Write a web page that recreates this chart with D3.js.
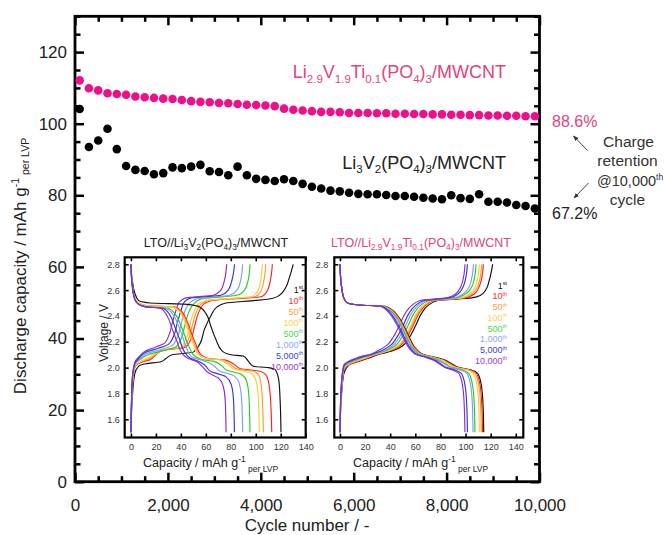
<!DOCTYPE html>
<html><head><meta charset="utf-8">
<script src="https://cdn.jsdelivr.net/npm/d3@7"></script>
<style>body{margin:0;background:#fff}svg{display:block}text{font-family:"Liberation Sans",Arial,sans-serif}</style>
</head><body>
<svg id="c" width="664" height="535"></svg>
<script>
// ---------------- DATA ----------------
const cycles = [100,300,500,700,900,1100,1300,1500,1700,1900,2100,2300,2500,2700,2900,3100,3300,3500,3700,3900,
  4100,4300,4500,4700,4900,5100,5300,5500,5700,5900,6100,6300,6500,6700,6900,7100,7300,7500,7700,7900,
  8100,8300,8500,8700,8900,9100,9300,9500,9700,9900];
const lvtpCapacity = [112.1,109.9,109.3,108.5,108.3,108.1,107.6,107.4,107.2,107.0,
  106.9,106.6,106.3,106.1,106.0,105.8,105.7,105.5,105.3,105.2,
  105.1,104.9,104.2,103.9,103.7,103.5,103.3,103.3,103.2,103.0,
  103.0,103.0,102.9,102.9,102.8,102.8,102.7,102.7,102.6,102.6,
  102.5,102.5,102.4,102.4,102.3,102.3,102.2,102.2,102.1,102.1];
const lvpCapacity = [104.1,93.5,95.3,98.6,92.9,88.2,87.1,86.8,85.9,86.2,
  87.8,87.6,88.0,88.5,86.7,86.5,85.6,88.0,85.6,84.6,
  84.3,84.0,84.5,84.0,83.2,82.4,81.9,81.3,81.1,80.7,
  80.4,80.3,80.3,80.1,79.8,79.8,79.6,79.3,79.1,78.9,
  80.0,79.2,79.0,80.3,78.2,78.2,78.0,77.3,77.0,76.3];
const xTickValues = [0,2000,4000,6000,8000,10000];
const yTickValues = [0,20,40,60,80,100,120];
const insetXTicks = [0,20,40,60,80,100,120,140];
const insetYTicks = [1.6,1.8,2.0,2.2,2.4,2.6,2.8];
const cycleLabels = ["1","10","50","100","500","1,000","5,000","10,000"];
const cycleSup = ["st","th","th","th","th","th","th","th"];
const cycleColors = ["#111111","#ff2020","#ff9a30","#ffcc33","#22d022","#7d9cff","#3434d8","#8a2ecc"];
const legendColors = ["#111111","#ff3030","#ffa040","#ffd24a","#44dd44","#88a8ff","#4040dd","#9a40d0"];

// inset 1: LTO//Li3V2(PO4)3/MWCNT  [capacity, voltage]
const lvpCharge = [
 [[0,1.5],[1,1.75],[3,1.95],[6,2.01],[12,2.03],[24,2.045],[28,2.07],[33,2.1],[50,2.12],[55,2.18],[59,2.3],[64,2.4],[69,2.47],[76,2.5],[100,2.52],[113,2.535],[119,2.56],[124,2.62],[127,2.7],[130,2.8]],
 [[0,1.5],[1,1.82],[3,2.0],[8,2.04],[15,2.06],[20,2.1],[25,2.13],[44,2.16],[48,2.22],[51,2.32],[54,2.42],[58,2.49],[65,2.52],[105,2.55],[109.5,2.6],[111.8,2.68],[113.3,2.8]],
 [[0,1.5],[1,1.83],[3,2.0],[8,2.045],[15,2.07],[20,2.105],[26,2.135],[42,2.16],[46,2.22],[49,2.32],[52,2.42],[56,2.49],[62,2.52],[100,2.55],[104.5,2.6],[106.6,2.68],[108,2.8]],
 [[0,1.5],[1,1.85],[3,2.01],[8,2.05],[15,2.08],[20,2.11],[27,2.14],[40,2.16],[44,2.22],[47,2.32],[50,2.42],[54,2.49],[60,2.52],[97,2.55],[102,2.6],[104,2.68],[105.3,2.8]],
 [[0,1.5],[1,1.87],[3,2.02],[7,2.06],[14,2.1],[25,2.13],[36,2.16],[40,2.22],[43,2.32],[46,2.42],[50,2.49],[56,2.53],[85,2.56],[91,2.6],[94,2.68],[95.4,2.8]],
 [[0,1.5],[1,1.88],[3,2.02],[7,2.07],[13,2.11],[24,2.14],[33,2.17],[37,2.23],[40,2.33],[43,2.43],[47,2.5],[52,2.53],[79,2.56],[85,2.6],[88,2.68],[89.5,2.8]],
 [[0,1.5],[1,1.9],[3,2.03],[7,2.08],[12,2.12],[22,2.15],[30,2.18],[34,2.24],[37,2.34],[40,2.44],[43,2.51],[48,2.54],[72,2.56],[78,2.6],[81,2.68],[83,2.8]],
 [[0,1.5],[1,1.9],[3,2.04],[7,2.09],[12,2.13],[20,2.16],[27,2.19],[30,2.24],[33,2.34],[36,2.44],[39,2.51],[44,2.54],[66,2.56],[72,2.6],[75,2.68],[76.7,2.8]]
];
const lvpDischarge = [
 [[0,2.8],[1,2.68],[3,2.58],[6,2.52],[15,2.5],[45,2.49],[55,2.47],[60,2.42],[64,2.32],[68,2.22],[73,2.13],[80,2.1],[90,2.09],[94,2.05],[98,2.01],[110,2.0],[116,1.98],[118.5,1.9],[119.5,1.75],[120.2,1.5]],
 [[0,2.8],[1,2.65],[3,2.54],[6,2.5],[12,2.48],[35,2.47],[40,2.44],[44,2.38],[48,2.28],[52,2.18],[56,2.1],[62,2.07],[75,2.06],[82,2.03],[88,1.99],[104,1.97],[109,1.93],[111.5,1.8],[112.8,1.5]],
 [[0,2.8],[1,2.65],[3,2.54],[6,2.5],[12,2.48],[34,2.47],[39,2.44],[43,2.38],[47,2.28],[51,2.18],[55,2.1],[61,2.07],[73,2.06],[79,2.03],[85,1.99],[99,1.97],[103,1.93],[105,1.8],[106.1,1.5]],
 [[0,2.8],[1,2.65],[3,2.54],[6,2.5],[12,2.48],[33,2.47],[38,2.44],[42,2.38],[46,2.28],[50,2.18],[54,2.1],[60,2.07],[71,2.06],[77,2.03],[82,1.99],[95,1.96],[99.5,1.92],[101.8,1.8],[102.9,1.5]],
 [[0,2.8],[1,2.64],[3,2.53],[6,2.49],[12,2.47],[30,2.46],[35,2.42],[39,2.35],[43,2.25],[47,2.15],[51,2.09],[58,2.06],[66,2.05],[72,2.02],[77,1.98],[88,1.95],[92.5,1.9],[94.5,1.78],[95.4,1.5]],
 [[0,2.8],[1,2.64],[3,2.53],[6,2.49],[12,2.47],[28,2.46],[33,2.42],[37,2.35],[41,2.25],[45,2.14],[49,2.08],[56,2.06],[62,2.04],[67,2.01],[72,1.97],[82,1.94],[86.7,1.88],[88.7,1.75],[89.5,1.5]],
 [[0,2.8],[1,2.64],[3,2.53],[6,2.49],[12,2.47],[26,2.46],[31,2.41],[35,2.32],[39,2.22],[43,2.12],[48,2.07],[54,2.05],[59,2.02],[64,1.97],[76,1.93],[80.3,1.87],[82.2,1.75],[82.9,1.5]],
 [[0,2.8],[1,2.64],[3,2.53],[6,2.49],[12,2.47],[24,2.46],[29,2.4],[33,2.3],[37,2.2],[41,2.11],[46,2.07],[52,2.05],[57,2.01],[62,1.96],[70,1.92],[73.8,1.86],[75.5,1.75],[76.2,1.5]]
];
// inset 2: LTO//Li2.9V1.9Ti0.1(PO4)3/MWCNT
const lvtpCharge = [
 [[0,1.5],[1,1.75],[3,1.95],[7,2.02],[12,2.04],[22,2.07],[30,2.1],[42,2.13],[50,2.17],[55,2.23],[60,2.32],[65,2.42],[70,2.48],[78,2.52],[105,2.54],[112,2.56],[116,2.6],[119,2.68],[121.6,2.8]],
 [[0,1.5],[1,1.78],[3,1.97],[7,2.02],[12,2.04],[21,2.07],[29,2.1],[40,2.13],[48,2.17],[53,2.23],[58,2.32],[63,2.42],[68,2.48],[75,2.52],[100,2.54],[107,2.57],[111,2.63],[113,2.7],[114.2,2.8]],
 [[0,1.5],[1,1.79],[3,1.98],[7,2.025],[12,2.045],[20,2.07],[28,2.1],[39,2.13],[47,2.17],[52,2.23],[57,2.32],[62,2.42],[67,2.48],[74,2.52],[98,2.54],[105,2.57],[109.7,2.63],[111.7,2.7],[112.9,2.8]],
 [[0,1.5],[1,1.8],[3,1.99],[7,2.03],[12,2.05],[20,2.075],[27,2.1],[38,2.13],[46,2.17],[51,2.23],[56,2.32],[61,2.42],[66,2.48],[73,2.52],[96,2.54],[103,2.57],[107.8,2.63],[109.8,2.7],[111,2.8]],
 [[0,1.5],[1,1.82],[3,2.0],[7,2.035],[12,2.055],[19,2.08],[26,2.1],[36,2.13],[44,2.17],[49,2.23],[54,2.32],[59,2.42],[64,2.48],[71,2.52],[93,2.54],[100,2.57],[105.2,2.63],[107.2,2.7],[108.4,2.8]],
 [[0,1.5],[1,1.83],[3,2.0],[7,2.04],[12,2.06],[18,2.08],[25,2.1],[35,2.13],[42,2.17],[47,2.23],[52,2.32],[57,2.42],[62,2.48],[69,2.52],[91,2.54],[98,2.57],[103.1,2.63],[105.1,2.7],[106.3,2.8]],
 [[0,1.5],[1,1.85],[3,2.01],[7,2.045],[12,2.065],[18,2.085],[24,2.1],[33,2.13],[40,2.17],[45,2.23],[50,2.32],[55,2.42],[60,2.48],[67,2.52],[87,2.54],[94,2.57],[98.3,2.63],[100.3,2.7],[101.5,2.8]],
 [[0,1.5],[1,1.86],[3,2.02],[7,2.05],[12,2.07],[18,2.09],[23,2.1],[30,2.13],[37,2.17],[42,2.23],[47,2.32],[52,2.42],[57,2.48],[64,2.52],[85,2.54],[92,2.57],[96.4,2.63],[98.4,2.7],[99.6,2.8]]
];
const lvtpDischarge = [
 [[0,2.8],[1,2.65],[3,2.54],[6,2.5],[15,2.485],[36,2.475],[41,2.45],[46,2.4],[51,2.32],[56,2.22],[61,2.14],[67,2.1],[76,2.08],[83,2.06],[89,2.03],[95,2.0],[105,1.98],[110,1.95],[112.8,1.85],[114,1.7],[114.5,1.5]],
 [[0,2.8],[1,2.65],[3,2.54],[6,2.5],[15,2.485],[35.5,2.475],[40.5,2.45],[45.5,2.4],[50.5,2.32],[55.5,2.22],[60.5,2.14],[66.5,2.1],[75,2.08],[82,2.06],[88,2.03],[94,2.0],[104,1.98],[109,1.95],[111.8,1.85],[113,1.7],[113.5,1.5]],
 [[0,2.8],[1,2.65],[3,2.54],[6,2.5],[15,2.485],[35,2.475],[40,2.45],[45,2.4],[50,2.32],[55,2.22],[60,2.14],[66,2.1],[74,2.08],[81,2.06],[87,2.03],[93,2.0],[103,1.98],[108,1.95],[110.8,1.85],[112,1.7],[112.5,1.5]],
 [[0,2.8],[1,2.65],[3,2.54],[6,2.5],[15,2.485],[34.5,2.475],[39.5,2.45],[44.5,2.4],[49.5,2.32],[54.5,2.22],[59.5,2.14],[65.5,2.1],[73,2.08],[80,2.06],[86,2.03],[92,2.0],[101.5,1.98],[106.5,1.95],[109.3,1.85],[110.5,1.7],[111,1.5]],
 [[0,2.8],[1,2.65],[3,2.54],[6,2.5],[15,2.485],[34,2.475],[39,2.45],[44,2.4],[49,2.32],[54,2.22],[59,2.14],[64.5,2.1],[72,2.08],[78,2.06],[84,2.03],[89.5,2.0],[98,1.98],[103,1.95],[105.8,1.85],[107,1.7],[107.5,1.5]],
 [[0,2.8],[1,2.65],[3,2.54],[6,2.5],[15,2.485],[33.5,2.475],[38.5,2.45],[43.5,2.4],[48.5,2.32],[53.5,2.22],[58.5,2.14],[64,2.1],[71,2.08],[77,2.06],[83,2.03],[88.5,2.0],[96.5,1.98],[101.5,1.95],[104.3,1.85],[105.5,1.7],[106,1.5]],
 [[0,2.8],[1,2.65],[3,2.54],[6,2.5],[15,2.485],[33,2.475],[37.5,2.45],[42,2.4],[47,2.32],[52,2.22],[57,2.14],[62,2.1],[69,2.08],[75,2.06],[80,2.03],[85,2.0],[92,1.98],[97,1.95],[99.8,1.85],[101,1.7],[101.5,1.5]],
 [[0,2.8],[1,2.65],[3,2.54],[6,2.5],[15,2.485],[32,2.475],[36.5,2.45],[41,2.4],[46,2.32],[51,2.22],[56,2.14],[61,2.1],[68,2.08],[74,2.06],[79,2.03],[84,2.0],[90,1.98],[95,1.95],[97.8,1.85],[99,1.7],[99.5,1.5]]
];

// ---------------- DRAW ----------------
const PINK_DOT = "#ee0f8a", PINK_TXT = "#e2437f", TXT = "#222";
const svg = d3.select("#c");

function rich(sel, parts, fs, subShift, supShift, small) {
  let shift = 0;
  parts.forEach(([t, m]) => {
    const target = m === -1 ? subShift : m === 1 ? -supShift : 0;
    const ts = sel.append("tspan").text(t).attr("dy", target - shift);
    if (m) ts.attr("font-size", small);
    shift = target;
  });
}

const X = d3.scaleLinear().domain([0, 10000]).range([75, 539.5]);
const Y = d3.scaleLinear().domain([0, 130]).range([481.7, 16.3]);
const xMinor = d3.range(0, 10001, 500).filter(v => v % 2000 !== 0);
const yMinor = d3.range(0, 131, 5).filter(v => v % 20 !== 0);
const yMajorAll = d3.range(0, 131, 20);

function styleAxis(g, w) {
  g.select(".domain").remove();
  g.selectAll(".tick line").attr("stroke", "#000").attr("stroke-width", w);
}
// bottom
svg.append("g").attr("transform", `translate(0,${Y(0)})`)
  .call(d3.axisBottom(X).tickValues(xTickValues).tickSize(-9).tickSizeOuter(0).tickPadding(17).tickFormat(d3.format(",")))
  .call(g => { styleAxis(g, 2.5); g.selectAll("text").attr("font-size", 17).attr("fill", TXT).attr("font-family", '"Liberation Sans",Arial,sans-serif'); });
svg.append("g").attr("transform", `translate(0,${Y(0)})`)
  .call(d3.axisBottom(X).tickValues(xMinor).tickSize(-5.5).tickSizeOuter(0).tickFormat(""))
  .call(g => styleAxis(g, 2.5));
// top
svg.append("g").attr("transform", `translate(0,${Y(130)})`)
  .call(d3.axisTop(X).tickValues(xTickValues).tickSize(-9).tickSizeOuter(0).tickFormat(""))
  .call(g => styleAxis(g, 2.5));
svg.append("g").attr("transform", `translate(0,${Y(130)})`)
  .call(d3.axisTop(X).tickValues(xMinor).tickSize(-5.5).tickSizeOuter(0).tickFormat(""))
  .call(g => styleAxis(g, 2.5));
// left
svg.append("g").attr("transform", `translate(${X(0)},0)`)
  .call(d3.axisLeft(Y).tickValues(yTickValues).tickSize(-9).tickSizeOuter(0).tickPadding(8))
  .call(g => { styleAxis(g, 2.5); g.selectAll("text").attr("font-size", 17).attr("fill", TXT).attr("font-family", '"Liberation Sans",Arial,sans-serif'); });
svg.append("g").attr("transform", `translate(${X(0)},0)`)
  .call(d3.axisLeft(Y).tickValues(yMinor).tickSize(-5.5).tickSizeOuter(0).tickFormat(""))
  .call(g => styleAxis(g, 2.5));
// right
svg.append("g").attr("transform", `translate(${X(10000)},0)`)
  .call(d3.axisRight(Y).tickValues(yMajorAll).tickSize(-9).tickSizeOuter(0).tickFormat(""))
  .call(g => styleAxis(g, 2.5));
svg.append("g").attr("transform", `translate(${X(10000)},0)`)
  .call(d3.axisRight(Y).tickValues(yMinor).tickSize(-5.5).tickSizeOuter(0).tickFormat(""))
  .call(g => styleAxis(g, 2.5));

// frame
svg.append("rect").attr("x", X(0)).attr("y", Y(130)).attr("width", X(10000) - X(0)).attr("height", Y(0) - Y(130))
  .attr("fill", "none").attr("stroke", "#000").attr("stroke-width", 2.8);

// dots
svg.append("g").selectAll("circle").data(cycles).join("circle")
  .attr("cx", d => X(d)).attr("cy", (d, i) => Y(lvtpCapacity[i])).attr("r", 4.3).attr("fill", PINK_DOT);
svg.append("g").selectAll("circle").data(cycles).join("circle")
  .attr("cx", d => X(d)).attr("cy", (d, i) => Y(lvpCapacity[i])).attr("r", 4.3).attr("fill", "#000");

// axis titles
svg.append("text").attr("x", 307).attr("y", 531).attr("text-anchor", "middle").attr("font-size", 17).attr("fill", TXT).text("Cycle number / -");
const yt = svg.append("text").attr("transform", "translate(26,266) rotate(-90)").attr("text-anchor", "middle").attr("font-size", 17).attr("fill", TXT);
rich(yt, [["Discharge capacity / mAh g", 0], ["-1", 1], [" per LVP", -1]], 17, 3, 7, 10.5);

// series labels
const pl = svg.append("text").attr("x", 506).attr("y", 78).attr("text-anchor", "end").attr("font-size", 18).attr("fill", PINK_TXT);
rich(pl, [["Li",0],["2.9",-1],["V",0],["1.9",-1],["Ti",0],["0.1",-1],["(PO",0],["4",-1],[")",0],["3",-1],["/MWCNT",0]], 18, 4.5, 7, 11.5);
const bl = svg.append("text").attr("x", 506).attr("y", 168.5).attr("text-anchor", "end").attr("font-size", 18).attr("fill", TXT);
rich(bl, [["Li",0],["3",-1],["V",0],["2",-1],["(PO",0],["4",-1],[")",0],["3",-1],["/MWCNT",0]], 18, 4.5, 7, 11.5);

// retention annotations
svg.append("text").attr("x", 552).attr("y", 127.3).attr("font-size", 16).attr("fill", PINK_TXT).text("88.6%");
svg.append("text").attr("x", 552).attr("y", 218.5).attr("font-size", 16).attr("fill", TXT).text("67.2%");
const ann = svg.append("g").attr("font-size", 15.5).attr("fill", "#333").attr("text-anchor", "middle");
ann.append("text").attr("x", 628.5).attr("y", 147.3).text("Charge");
ann.append("text").attr("x", 627.5).attr("y", 166).text("retention");
const at = ann.append("text").attr("x", 597).attr("y", 185.8).attr("text-anchor", "start").attr("font-size", 14.5);
rich(at, [["@10,000", 0], ["th", 1]], 14.5, 0, 5.5, 8.5);
ann.append("text").attr("x", 627.5).attr("y", 205).text("cycle");

const defs = svg.append("defs");
defs.append("marker").attr("id", "ah").attr("viewBox", "0 0 10 10").attr("refX", 9).attr("refY", 5)
  .attr("markerWidth", 6).attr("markerHeight", 6).attr("orient", "auto")
  .append("path").attr("d", "M0,1 L10,5 L0,9 Z").attr("fill", "#333");
svg.append("line").attr("x1", 587.5).attr("y1", 150.5).attr("x2", 573.5).attr("y2", 136).attr("stroke", "#333").attr("stroke-width", 0.9).attr("marker-end", "url(#ah)");
svg.append("line").attr("x1", 588.5).attr("y1", 183).attr("x2", 574).attr("y2", 198).attr("stroke", "#333").attr("stroke-width", 0.9).attr("marker-end", "url(#ah)");

// ---------------- INSETS ----------------
const vDom = [1.459, 2.854];
function inset(cfg) {
  const g = svg.append("g");
  const xs = d3.scaleLinear().domain(cfg.xDom).range([cfg.left, cfg.right]);
  const ys = d3.scaleLinear().domain(vDom).range([437.5, 257.3]);
  g.append("rect").attr("x", cfg.left).attr("y", ys(vDom[1])).attr("width", cfg.right - cfg.left)
    .attr("height", ys(vDom[0]) - ys(vDom[1])).attr("fill", "#fff");
  const line = d3.line().x(d => xs(d[0])).y(d => ys(d[1])).curve(d3.curveMonotoneY);
  const cg = g.append("g").attr("fill", "none").attr("stroke-width", 1.15);
  cfg.charge.forEach((c, i) => cg.append("path").attr("d", line(c)).attr("stroke", cycleColors[i]));
  cfg.discharge.forEach((c, i) => cg.append("path").attr("d", line(c)).attr("stroke", cycleColors[i]));
  const st = (a) => a.call(gg => { gg.select(".domain").remove(); gg.selectAll(".tick line").attr("stroke", "#000").attr("stroke-width", 1.6);
    gg.selectAll("text").attr("font-size", 9).attr("fill", "#333").attr("font-family", '"Liberation Sans",Arial,sans-serif'); });
  g.append("g").attr("transform", `translate(0,${ys(vDom[0])})`).call(d3.axisBottom(xs).tickValues(insetXTicks).tickSize(-4).tickSizeOuter(0).tickPadding(6)).call(st);
  g.append("g").attr("transform", `translate(0,${ys(vDom[1])})`).call(d3.axisTop(xs).tickValues(insetXTicks).tickSize(-4).tickSizeOuter(0).tickFormat("")).call(st);
  g.append("g").attr("transform", `translate(${cfg.left},0)`).call(d3.axisLeft(ys).tickValues(insetYTicks).tickSize(-4).tickSizeOuter(0).tickPadding(cfg.ypad).tickFormat(d3.format(".1f"))).call(st);
  g.append("g").attr("transform", `translate(${cfg.right},0)`).call(d3.axisRight(ys).tickValues(insetYTicks).tickSize(-4).tickSizeOuter(0).tickFormat("")).call(st);
  g.append("rect").attr("x", cfg.left).attr("y", ys(vDom[1])).attr("width", cfg.right - cfg.left)
    .attr("height", ys(vDom[0]) - ys(vDom[1])).attr("fill", "none").attr("stroke", "#000").attr("stroke-width", 2.2);
  // title
  const t = g.append("text").attr("x", cfg.titleX).attr("y", 247).attr("text-anchor", "middle").attr("font-size", 12.5).attr("fill", cfg.titleColor);
  rich(t, cfg.title, 12.5, 3, 5, 8.3);
  // x title
  const xt2 = g.append("text").attr("x", cfg.xtX).attr("y", 467).attr("font-size", 12.5).attr("fill", TXT);
  rich(xt2, [["Capacity / mAh g", 0], ["-1", 1], [" per LVP", -1]], 12.5, 5, 5, 8.5);
  // legend
  cycleLabels.forEach((lab, i) => {
    const lt = g.append("text").attr("x", cfg.legX).attr("y", cfg.legY + i * cfg.legDy).attr("text-anchor", "end")
      .attr("font-size", 9).attr("fill", legendColors[i]);
    rich(lt, [[lab, 0], [cycleSup[i], 1]], 9, 0, 3.5, 5.5);
  });
  return { xs, ys };
}
inset({ left: 124.7, right: 305.7, xDom: [-5, 140], charge: lvpCharge, discharge: lvpDischarge, ypad: 5,
  titleX: 216, titleColor: TXT, xtX: 143,
  title: [["LTO//Li",0],["3",-1],["V",0],["2",-1],["(PO",0],["4",-1],[")",0],["3",-1],["/MWCNT",0]],
  legX: 303, legY: 292.5, legDy: 11 });
inset({ left: 334.3, right: 523.3, xDom: [-4.5, 146], charge: lvtpCharge, discharge: lvtpDischarge, ypad: 6,
  titleX: 421, titleColor: PINK_TXT, xtX: 353,
  title: [["LTO//Li",0],["2.9",-1],["V",0],["1.9",-1],["Ti",0],["0.1",-1],["(PO",0],["4",-1],[")",0],["3",-1],["/MWCNT",0]],
  legX: 507, legY: 288.5, legDy: 10.75 });
svg.append("text").attr("transform", "translate(108,333) rotate(-90)").attr("text-anchor", "middle").attr("font-size", 12).attr("fill", TXT).text("Voltage / V");
</script>
</body></html>
